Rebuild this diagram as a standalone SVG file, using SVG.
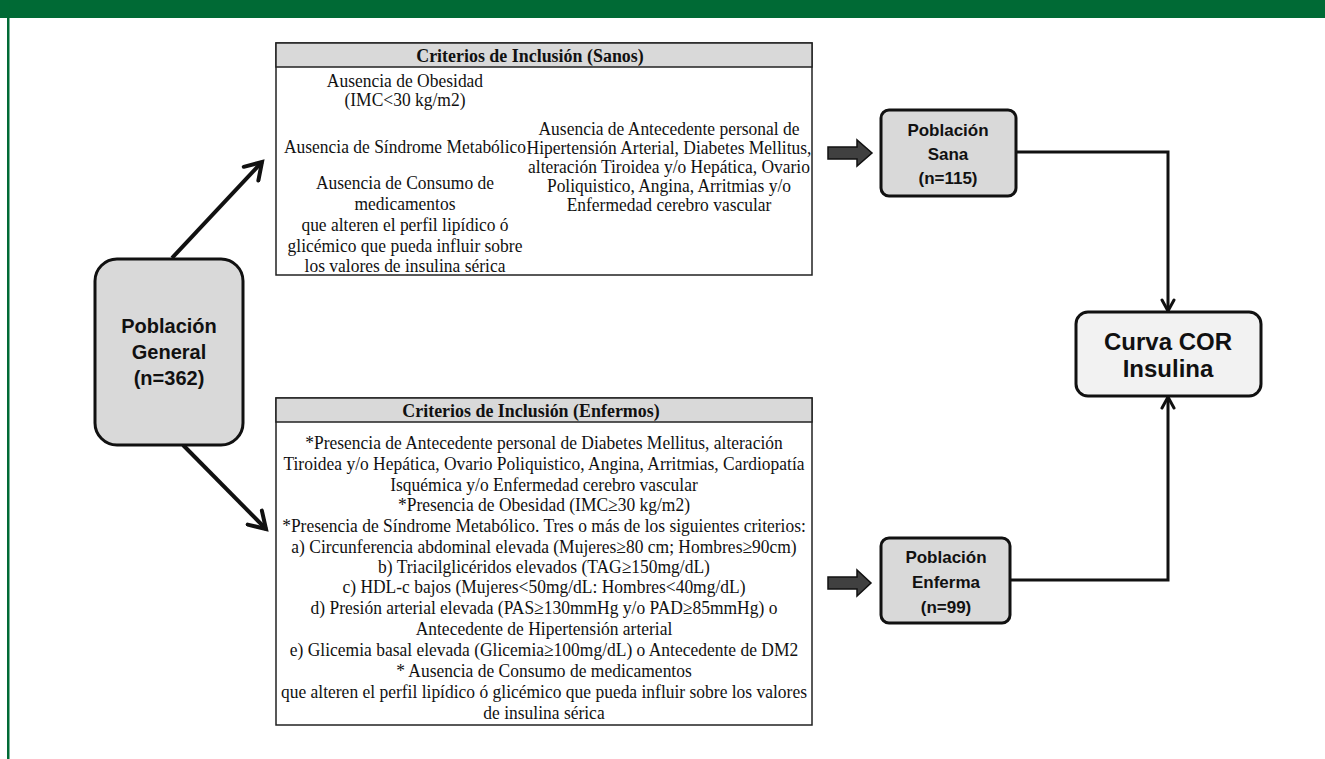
<svg xmlns="http://www.w3.org/2000/svg" width="1325" height="759" viewBox="0 0 1325 759">
<style>
.serif{font-family:"Liberation Serif","Times New Roman",serif;font-size:19px;fill:#111;text-anchor:middle}
.ttl{font-family:"Liberation Serif","Times New Roman",serif;font-size:19.5px;font-weight:bold;fill:#111;text-anchor:middle}
.sans{font-family:"Liberation Sans",Arial,sans-serif;font-weight:bold;fill:#111;text-anchor:middle}
.box{fill:#fff;stroke:#222;stroke-width:1.5}
.hdr{fill:#d9d9d9;stroke:#222;stroke-width:1.5}
.node{fill:#d9d9d9;stroke:#111;stroke-width:3}
.conn{fill:none;stroke:#111}
.fat{fill:#404040;stroke:#111;stroke-width:1.5;stroke-linejoin:miter}
</style>
<defs>
<marker id="chev" viewBox="0 0 24 24" markerWidth="24" markerHeight="24" refX="20" refY="12" orient="auto" markerUnits="userSpaceOnUse">
<path d="M4,2 L20,12 L4,22" fill="none" stroke="#111" stroke-width="4" stroke-linecap="round" stroke-linejoin="miter"/>
</marker>
<marker id="chev2" viewBox="0 0 16 16" markerWidth="16" markerHeight="16" refX="14" refY="8" orient="auto" markerUnits="userSpaceOnUse">
<path d="M3,2 L14,8 L3,14" fill="none" stroke="#111" stroke-width="3" stroke-linecap="round"/>
</marker>
</defs>
<rect width="1325" height="759" fill="#fff"/>
<g id="frame">
<rect x="0" y="0" width="1325" height="18" fill="#006a35"/>
<rect x="7" y="0" width="2.5" height="759" fill="#006a35"/>
</g>
<g id="connectors">
<line class="conn" x1="172" y1="258" x2="262" y2="162" stroke-width="4" marker-end="url(#chev)"/>
<line class="conn" x1="183" y1="445" x2="266" y2="529" stroke-width="4" marker-end="url(#chev)"/>
<path class="conn" d="M1017,152 H1168 V311" stroke-width="3" marker-end="url(#chev2)"/>
<path class="conn" d="M1010,580 H1168 V397" stroke-width="3" marker-end="url(#chev2)"/>
<path class="fat" d="M828,147 H857 V140 L872,153 L857,166 V159 H828 Z"/>
<path class="fat" d="M828,577 H857 V570 L871,583 L857,596 V589 H828 Z"/>
</g>
<g id="general">
<rect class="node" x="95" y="259" width="148" height="186" rx="22"/>
<text class="sans" font-size="20" x="169" y="333">Población</text>
<text class="sans" font-size="20" x="169" y="359">General</text>
<text class="sans" font-size="20" x="169" y="385">(n=362)</text>
</g>
<g id="sanos">
<rect class="box" x="276" y="43" width="536" height="232"/>
<rect class="hdr" x="276" y="43" width="536" height="24"/>
<text class="ttl" x="530" y="62" transform="matrix(0.92 0 0 1 42.4 0)">Criterios de Inclusión (Sanos)</text>
<g transform="matrix(0.92 0 0 1 32.4 0)">
<text class="serif" x="405" y="87">Ausencia de Obesidad</text>
<text class="serif" x="405" y="106">(IMC&lt;30 kg/m2)</text>
<text class="serif" x="405" y="153">Ausencia de Síndrome Metabólico</text>
<text class="serif" x="405" y="189">Ausencia de Consumo de</text>
<text class="serif" x="405" y="210">medicamentos</text>
<text class="serif" x="405" y="231">que alteren el perfil lipídico ó</text>
<text class="serif" x="405" y="252">glicémico que pueda influir sobre</text>
<text class="serif" x="405" y="272">los valores de insulina sérica</text>
</g>
<g transform="matrix(0.92 0 0 1 53.52 0)">
<text class="serif" x="669" y="135">Ausencia de Antecedente personal de</text>
<text class="serif" x="669" y="154">Hipertensión Arterial, Diabetes Mellitus,</text>
<text class="serif" x="669" y="173">alteración Tiroidea y/o Hepática, Ovario</text>
<text class="serif" x="669" y="192">Poliquistico, Angina, Arritmias y/o</text>
<text class="serif" x="669" y="211">Enfermedad cerebro vascular</text>
</g>
</g>
<g id="enfermos">
<rect class="box" x="276" y="398" width="536" height="327"/>
<rect class="hdr" x="276" y="398" width="536" height="24"/>
<text class="ttl" x="531" y="417" transform="matrix(0.92 0 0 1 42.48 0)">Criterios de Inclusión (Enfermos)</text>
<g transform="matrix(0.92 0 0 1 43.52 0)">
<text class="serif" x="544" y="449">*Presencia de Antecedente personal de Diabetes Mellitus, alteración</text>
<text class="serif" x="544" y="470">Tiroidea y/o Hepática, Ovario Poliquistico, Angina, Arritmias, Cardiopatía</text>
<text class="serif" x="544" y="491">Isquémica y/o Enfermedad cerebro vascular</text>
<text class="serif" x="544" y="511">*Presencia de Obesidad  (IMC≥30 kg/m2)</text>
<text class="serif" x="544" y="532">*Presencia de Síndrome Metabólico. Tres o más de los siguientes criterios:</text>
<text class="serif" x="544" y="553">a) Circunferencia abdominal elevada (Mujeres≥80 cm; Hombres≥90cm)</text>
<text class="serif" x="544" y="573">b) Triacilglicéridos elevados (TAG≥150mg/dL)</text>
<text class="serif" x="544" y="593">c) HDL-c bajos (Mujeres&lt;50mg/dL: Hombres&lt;40mg/dL)</text>
<text class="serif" x="544" y="614">d) Presión arterial elevada (PAS≥130mmHg y/o PAD≥85mmHg) o</text>
<text class="serif" x="544" y="635">Antecedente de Hipertensión arterial</text>
<text class="serif" x="544" y="656">e) Glicemia basal elevada (Glicemia≥100mg/dL) o Antecedente de DM2</text>
<text class="serif" x="544" y="677">* Ausencia de Consumo de medicamentos</text>
<text class="serif" x="544" y="698">que alteren el perfil lipídico ó glicémico que pueda influir sobre los valores</text>
<text class="serif" x="544" y="719">de insulina sérica</text>
</g>
</g>
<g id="sana">
<rect class="node" x="881" y="110" width="135" height="86" rx="8"/>
<text class="sans" font-size="17" x="948" y="136">Población</text>
<text class="sans" font-size="17" x="948" y="160">Sana</text>
<text class="sans" font-size="17" x="948" y="184">(n=115)</text>
</g>
<g id="enferma">
<rect class="node" x="881" y="538" width="129" height="85" rx="8"/>
<text class="sans" font-size="17" x="946" y="563">Población</text>
<text class="sans" font-size="17" x="946" y="588">Enferma</text>
<text class="sans" font-size="17" x="946" y="613">(n=99)</text>
</g>
<g id="curva">
<rect class="node" x="1076" y="312" width="185" height="84" rx="12" style="fill:#f2f2f2"/>
<text class="sans" font-size="24" x="1168" y="350">Curva COR</text>
<text class="sans" font-size="24" x="1168" y="377">Insulina</text>
</g>
</svg>
